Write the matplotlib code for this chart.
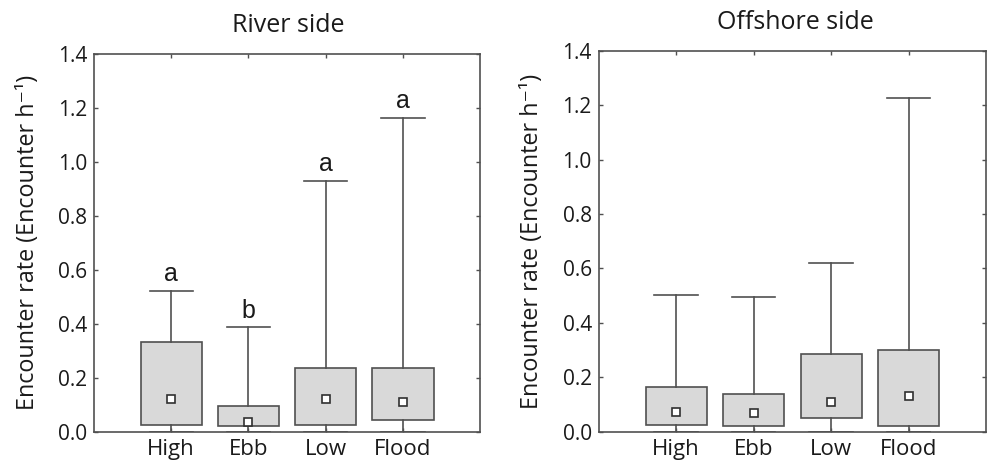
import matplotlib
matplotlib.use("Agg")
import matplotlib.pyplot as plt

plt.rcParams['font.family'] = ['Open Sans', 'DejaVu Sans']

categories = ["High", "Ebb", "Low", "Flood"]

# River side
river_med = [0.121, 0.036, 0.121, 0.109]
river_q1 = [0.025, 0.022, 0.025, 0.045]
river_q3 = [0.334, 0.095, 0.237, 0.237]
river_min = [0.0, 0.0, 0.0, 0.0]
river_max = [0.523, 0.387, 0.931, 1.164]
river_letters = ["a", "b", "a", "a"]

# Offshore side
off_med = [0.071, 0.070, 0.108, 0.130]
off_q1 = [0.025, 0.022, 0.049, 0.022]
off_q3 = [0.165, 0.138, 0.287, 0.300]
off_min = [0.0, 0.0, 0.0, 0.0]
off_max = [0.501, 0.494, 0.619, 1.227]

edge = "#505050"
fill = "#d9d9d9"
txt = "#1a1a1a"


def draw(ax, med, q1, q3, lo, hi, letters=None):
    stats = []
    for i in range(len(categories)):
        stats.append({"med": med[i], "q1": q1[i], "q3": q3[i],
                      "whislo": lo[i], "whishi": hi[i], "label": categories[i]})
    pos = list(range(1, len(categories) + 1))
    ax.bxp(stats, positions=pos, widths=0.79, capwidths=0.56, showfliers=False,
           patch_artist=True,
           boxprops=dict(facecolor=fill, edgecolor=edge, linewidth=1.2),
           whiskerprops=dict(color=edge, linewidth=1.2),
           capprops=dict(color=edge, linewidth=1.2),
           medianprops=dict(linewidth=0))
    ax.plot(pos, med, "s", ms=6, mfc="white", mec="#303030", mew=1.2, ls="none")
    if letters:
        for p, h, l in zip(pos, hi, letters):
            ax.text(p, h + 0.062, l, ha="center", va="center", fontsize=18,
                    family=["Liberation Sans"], color=txt)
    ax.set_xlim(0, 5)
    ax.set_ylim(0, 1.4)
    ax.set_yticks([0.0, 0.2, 0.4, 0.6, 0.8, 1.0, 1.2, 1.4])
    ax.set_yticklabels(["%.1f" % v for v in ax.get_yticks()])
    ax.set_xticks(pos)
    ax.set_xticklabels(categories)
    ax.tick_params(axis="both", direction="in", length=3, width=1, color=edge,
                   top=True, right=True, colors=txt)
    ax.tick_params(axis="y", labelsize=15, pad=5)
    ax.tick_params(axis="x", labelsize=16, pad=5)
    for s in ax.spines.values():
        s.set_color(edge)
        s.set_linewidth(1.2)
    ax.set_ylabel("Encounter rate (Encounter h⁻¹)", fontsize=16.8, color=txt, labelpad=13)


fig = plt.figure(figsize=(9.88, 4.63), dpi=100)
ax1 = fig.add_axes([0.0951, 0.0676, 0.391, 0.8157])
ax2 = fig.add_axes([0.606, 0.0676, 0.392, 0.8229])

draw(ax1, river_med, river_q1, river_q3, river_min, river_max, river_letters)
draw(ax2, off_med, off_q1, off_q3, off_min, off_max)

fig.text(0.292, 1 - 25 / 463, "River side", ha="center", va="center", fontsize=18, color=txt)
fig.text(0.805, 1 - 22.7 / 463, "Offshore side", ha="center", va="center", fontsize=18, color=txt)

fig.savefig("out.png", dpi=100)
